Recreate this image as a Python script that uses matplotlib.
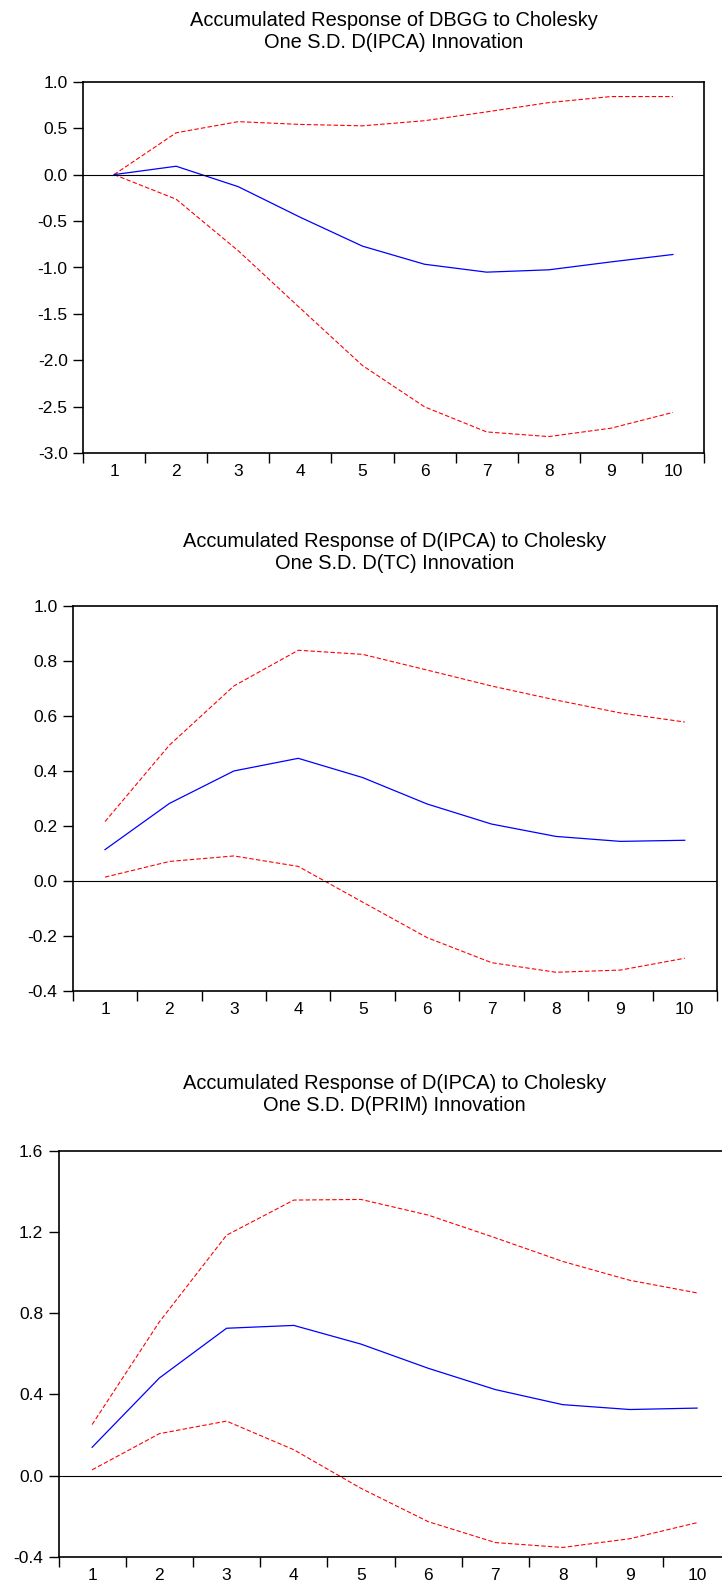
import numpy as np
import matplotlib
matplotlib.use("Agg")
from matplotlib import pyplot as plt

plt.rcParams['font.family'] = ['Liberation Sans', 'DejaVu Sans']

periods = list(range(1, 11))

# panel 1: DBGG to D(IPCA)
title_1 = "Accumulated Response of DBGG to Cholesky\nOne S.D. D(IPCA) Innovation"
resp_1 = [0.0, 0.09, -0.13, -0.46, -0.77, -0.965, -1.05, -1.025, -0.94, -0.86]
upper_1 = [0.0, 0.45, 0.57, 0.54, 0.525, 0.58, 0.675, 0.775, 0.84, 0.84]
lower_1 = [0.0, -0.265, -0.82, -1.44, -2.055, -2.50, -2.77, -2.82, -2.73, -2.56]
yticks_1 = [-3.0, -2.5, -2.0, -1.5, -1.0, -0.5, 0.0, 0.5, 1.0]

# panel 2: D(IPCA) to D(TC)
title_2 = "Accumulated Response of D(IPCA) to Cholesky\nOne S.D. D(TC) Innovation"
resp_2 = [0.113, 0.281, 0.399, 0.445, 0.375, 0.279, 0.206, 0.161, 0.143, 0.147]
upper_2 = [0.215, 0.493, 0.708, 0.838, 0.823, 0.766, 0.708, 0.657, 0.61, 0.577]
lower_2 = [0.013, 0.070, 0.090, 0.052, -0.078, -0.207, -0.298, -0.333, -0.325, -0.282]
yticks_2 = [-0.4, -0.2, 0.0, 0.2, 0.4, 0.6, 0.8, 1.0]

# panel 3: D(IPCA) to D(PRIM)
title_3 = "Accumulated Response of D(IPCA) to Cholesky\nOne S.D. D(PRIM) Innovation"
resp_3 = [0.14, 0.481, 0.726, 0.740, 0.648, 0.529, 0.424, 0.35, 0.326, 0.333]
upper_3 = [0.252, 0.757, 1.184, 1.357, 1.36, 1.283, 1.171, 1.055, 0.962, 0.90]
lower_3 = [0.029, 0.207, 0.269, 0.128, -0.062, -0.226, -0.329, -0.353, -0.31, -0.231]
yticks_3 = [-0.4, 0.0, 0.4, 0.8, 1.2, 1.6]

W, H = 722, 1586
fig = plt.figure(figsize=(W / 100, H / 100), dpi=100)


def px_axes(left, right, top, bottom):
    return fig.add_axes([left / W, 1 - bottom / H, (right - left) / W, (bottom - top) / H])


def draw_panel(ax, title, title_y, resp, upper, lower, yticks):
    ax.plot(periods, upper, color='red', lw=0.8, ls=(0, (4, 2)))
    ax.plot(periods, lower, color='red', lw=0.8, ls=(0, (4, 2)))
    ax.plot(periods, resp, color='blue', lw=0.9)
    ax.axhline(0, color='black', lw=0.8)
    ax.set_xlim(0.5, 10.5)
    ax.set_ylim(yticks[0], yticks[-1])
    ax.set_yticks(yticks)
    ax.set_yticklabels([f"{v:.1f}" for v in yticks])
    # ticks sit on the boundaries, labels in the middle of each period
    ax.set_xticks(np.arange(0.5, 11, 1.0))
    ax.set_xticklabels([])
    ax.set_xticks(periods, minor=True)
    ax.set_xticklabels([str(p) for p in periods], minor=True)
    ax.tick_params(axis='x', which='major', length=7, width=1.0, direction='out')
    ax.tick_params(axis='x', which='minor', length=0, pad=8, labelsize=12.5)
    ax.tick_params(axis='y', length=7, width=1.0, direction='out', pad=4, labelsize=12.5)
    for sp in ax.spines.values():
        sp.set_linewidth(1.2)
    pos = ax.get_position()
    fig.text((pos.x0 + pos.x1) / 2, 1 - title_y / H, title, ha='center', va='center',
             fontsize=14.4, linespacing=1.2)


ax1 = px_axes(83, 704, 81.7, 453.3)
draw_panel(ax1, title_1, 31.3, resp_1, upper_1, lower_1, yticks_1)

ax2 = px_axes(72.8, 717, 605.7, 990.7)
draw_panel(ax2, title_2, 552.5, resp_2, upper_2, lower_2, yticks_2)

ax3 = px_axes(58.5, 730.7, 1150.7, 1557)
draw_panel(ax3, title_3, 1094.5, resp_3, upper_3, lower_3, yticks_3)

fig.savefig("out.png", dpi=100)
